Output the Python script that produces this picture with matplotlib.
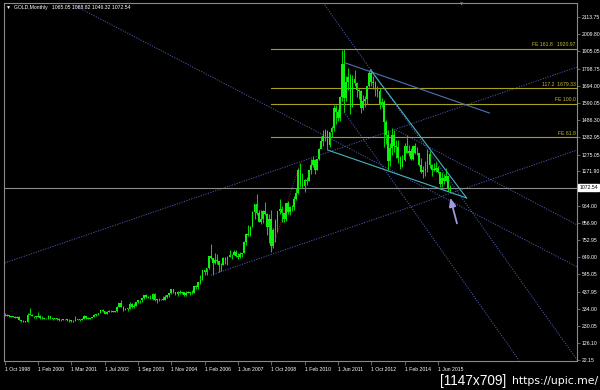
import matplotlib
matplotlib.use("Agg")
import matplotlib.pyplot as plt
import matplotlib.transforms as mtransforms

# monthly GOLD bars, Oct 1998 .. Dec 2015 (the feed has a few doubled months early on)
closes = [
    292, 294, 288,                                                        # 1998
    287, 287, 279, 286, 268, 261, 255, 254, 299, 299, 291, 288,           # 1999
    283, 293, 278, 276, 274, 272, 288, 276, 275, 277, 273, 264, 269, 270, 272,  # 2000
    265, 267, 258, 263, 266, 270, 266, 273, 293, 279, 274, 279,           # 2001
    282, 297, 302, 308, 326, 318, 304, 312, 323, 319, 317, 319, 347,      # 2002
    368, 348, 330, 334, 336, 364, 346, 354, 375, 388, 386, 398, 416,      # 2003
    408, 402, 396, 427, 388, 394, 393, 395, 391, 408, 416, 429, 453, 438, # 2004
    422, 435, 428, 435, 417, 430, 436, 429, 433, 473, 470, 495, 513,      # 2005
    569, 556, 582, 654, 643, 613, 633, 623, 599, 604, 646, 632,           # 2006
    650, 665, 662, 681, 657, 650, 666, 673, 743, 789, 783, 834,           # 2007
    923, 972, 916, 865, 885, 928, 912, 833, 884, 717, 815, 869,           # 2008
    928, 942, 916, 883, 979, 927, 955, 955, 1001, 1040, 1182, 1096,       # 2009
    1081, 1118, 1113, 1179, 1213, 1244, 1181, 1248, 1307, 1357, 1386, 1421,  # 2010
    1332, 1410, 1439, 1556, 1536, 1500, 1628, 1826, 1620, 1716, 1746, 1565,  # 2011
    1738, 1710, 1668, 1664, 1560, 1604, 1614, 1691, 1773, 1719, 1712, 1675,  # 2012
    1663, 1578, 1595, 1472, 1393, 1234, 1312, 1396, 1327, 1323, 1253, 1202,  # 2013
    1244, 1326, 1284, 1296, 1250, 1327, 1282, 1286, 1209, 1171, 1182, 1184,  # 2014
    1279, 1212, 1183, 1183, 1190, 1171, 1095, 1135, 1115, 1142, 1064, 1072.54,  # 2015
]
highs = [
    311, 300, 296,
    293, 292, 290, 292, 290, 268, 265, 258, 309, 338, 301, 292,
    292, 316, 296, 289, 281, 278, 295, 290, 280, 279, 278, 276, 270, 274, 273,
    272, 270, 267, 266, 293, 274, 272, 280, 295, 293, 283, 281,
    287, 304, 304, 310, 327, 332, 322, 318, 325, 325, 320, 323, 349,
    372, 389, 353, 340, 341, 373, 370, 368, 376, 391, 391, 400, 417,
    427, 412, 418, 430, 428, 397, 399, 396, 410, 416, 418, 431, 456, 457,
    438, 440, 447, 439, 435, 443, 440, 437, 448, 474, 478, 496, 538,
    571, 574, 585, 655, 730, 645, 675, 667, 626, 612, 650, 649,
    654, 691, 670, 693, 691, 672, 683, 675, 746, 796, 846, 841,
    928, 976, 1033, 934, 936, 934, 988, 919, 910, 935, 827, 883,
    932, 1006, 963, 919, 981, 990, 960, 966, 1025, 1070, 1195, 1226,
    1161, 1126, 1138, 1180, 1249, 1265, 1246, 1250, 1317, 1388, 1424, 1432,
    1424, 1413, 1448, 1575, 1577, 1553, 1632, 1913, 1921, 1755, 1803, 1764,
    1763, 1791, 1718, 1677, 1669, 1641, 1631, 1692, 1790, 1796, 1755, 1724,
    1696, 1683, 1617, 1605, 1487, 1424, 1347, 1434, 1424, 1361, 1361, 1267,
    1270, 1345, 1392, 1331, 1315, 1332, 1345, 1322, 1287, 1255, 1208, 1238,
    1307, 1294, 1220, 1224, 1232, 1205, 1171, 1170, 1157, 1191, 1142, 1088.82,
]
lows = [
    288, 290, 285,
    283, 282, 278, 278, 267, 256, 251, 252, 253, 297, 288, 280,
    280, 282, 274, 273, 272, 270, 271, 275, 269, 273, 268, 263, 262, 265, 268,
    262, 255, 255, 255, 263, 265, 263, 265, 270, 275, 272, 271,
    277, 282, 288, 298, 306, 314, 301, 302, 312, 315, 312, 313, 316,
    345, 345, 321, 325, 320, 335, 341, 340, 352, 369, 369, 374, 396,
    399, 400, 392, 391, 383, 371, 383, 390, 387, 386, 398, 408, 424, 431,
    416, 414, 424, 422, 414, 414, 428, 418, 426, 433, 458, 456, 488,
    513, 538, 540, 580, 640, 542, 607, 610, 560, 563, 604, 610,
    602, 649, 637, 661, 650, 640, 646, 650, 672, 722, 780, 781,
    834, 880, 905, 864, 850, 860, 908, 787, 736, 681, 705, 743,
    800, 912, 866, 866, 871, 913, 908, 933, 935, 1000, 1033, 1075,
    1073, 1045, 1088, 1112, 1155, 1200, 1157, 1179, 1244, 1315, 1330, 1360,
    1308, 1323, 1381, 1420, 1462, 1478, 1480, 1603, 1535, 1603, 1670, 1523,
    1563, 1696, 1628, 1613, 1527, 1548, 1564, 1581, 1688, 1692, 1672, 1635,
    1626, 1555, 1562, 1321, 1338, 1180, 1208, 1271, 1292, 1251, 1221, 1187,
    1200, 1238, 1283, 1268, 1240, 1240, 1280, 1272, 1206, 1160, 1131, 1142,
    1167, 1191, 1142, 1175, 1170, 1162, 1077, 1080, 1098, 1113, 1052, 1046.32,
]
opens = [299] + closes[:-2] + [1065.05]

date_ticks = [0, 16, 32, 48, 64, 80, 96, 112, 128, 144, 160, 176, 192, 208]
date_labels = ['1 Oct 1998', '1 Feb 2000', '1 Mar 2001', '1 Jul 2002', '1 Sep 2003',
               '1 Nov 2004', '1 Feb 2006', '1 Jun 2007', '1 Oct 2008', '1 Feb 2010',
               '1 Jun 2011', '1 Oct 2012', '1 Feb 2014', '1 Jun 2015']
price_ticks = [2113.75, 2009.80, 1905.05, 1798.75, 1694.00, 1590.05, 1486.30, 1382.95,
               1275.05, 1171.90, 964.00, 856.90, 752.95, 649.00, 545.05, 437.95,
               334.00, 230.05, 126.10, 22.15]
last_price = 1072.54

# fibo expansion (A = Oct 2008 low, B = Dec 2009 high)
fe_start = 128
fe_prices = [1379.1, 1586.1, 1679.33, 1920.97]
fe_labels = ['FE 61.8', 'FE 100.0', '117.2  1679.33', 'FE 161.8   1920.97']
fe_base = [(128, 681), (142, 1226)]

# hand drawn objects, (bar, price) anchors
dotted_lines = [
    [(0, 614), (275, 1809)],
    [(99, 540), (275, 1303)],
    [(33, 2187), (275, 589)],
    [(188, 1425), (275, 845)],
    [(153, 2199), (275, 20)],
    [(163, 1534), (247, 20)],
]
channel_line = [(163.7, 1833), (232.8, 1528)]
wedge_top = [(175.7, 1790), (221.8, 1010)]
wedge_bottom = [(155, 1303), (221.8, 1010)]
arrow_tail = (217.5, 839)
arrow_head = (213.6, 1028)

small = dict(fontsize=3.7, family=['Liberation Sans', 'DejaVu Sans'])

fig = plt.figure(figsize=(6, 3.9), dpi=100, facecolor='black')
ax = fig.add_axes([4/600, 29/390, 573/600, 358/390], facecolor='black')
ax.set_xlim(-0.3, 274.8)
ax.set_ylim(16.05, 2199.1)

# background objects first
for (x0, y0), (x1, y1) in dotted_lines:
    ax.plot([x0, x1], [y0, y1], color='#4a5aae', lw=0.7, ls=(0, (1.2, 1.4)), zorder=1)
ax.plot(*zip(*fe_base), color='#b01818', lw=0.6, ls=(0, (1.2, 1.4)), zorder=1)
ax.axhline(last_price, color='#8c8c8c', lw=0.8, zorder=1)
for p, lab in zip(fe_prices, fe_labels):
    ax.plot([fe_start, 275], [p, p], color='#aaa020', lw=0.8, zorder=1)
    ax.text(274.2, p + 8, lab, color='#c8bc30', ha='right', va='bottom', **small)

# candles
idx = list(range(len(closes)))
ax.vlines(idx, lows, highs, color='#00d400', lw=0.75, zorder=3)
bottoms = [min(o, c) for o, c in zip(opens, closes)]
heights = [max(abs(c - o), 3) for o, c in zip(opens, closes)]
ax.bar(idx, heights, bottom=bottoms, width=0.8, color='#10f010', linewidth=0, zorder=4)

# trend lines
ax.plot(*zip(*channel_line), color='#4e72b4', lw=0.8, zorder=5)
ax.plot(*zip(*wedge_top), color='#45b4c0', lw=0.8, zorder=5)
ax.plot(*zip(*wedge_bottom), color='#45b4c0', lw=0.8, zorder=5)
ax.annotate('', xy=arrow_head, xytext=arrow_tail,
            arrowprops=dict(arrowstyle='-|>,head_length=0.5,head_width=0.2',
                            color='#a098e4', lw=1.3), zorder=6)

# axes
for sp in ax.spines.values():
    sp.set_color('#8a8a8a')
    sp.set_linewidth(0.8)
ax.set_xticks(date_ticks)
ax.set_xticklabels(date_labels, **small)
for lbl in ax.get_xticklabels():
    lbl.set_ha('left')
ax.tick_params(axis='x', colors='#8a8a8a', labelcolor='white', length=3, width=0.5, pad=1.5)
ax.yaxis.tick_right()
ax.set_yticks(price_ticks)
ax.set_yticklabels(['%.2f' % v for v in price_ticks], **small)
ax.tick_params(axis='y', colors='#8a8a8a', labelcolor='white', length=2, width=0.5, pad=1.5)

trans = mtransforms.blended_transform_factory(ax.transAxes, ax.transData)
ax.text(1.004, last_price, '%.2f' % last_price, transform=trans, color='black',
        ha='left', va='center', bbox=dict(facecolor='white', edgecolor='white', pad=0.8),
        **small)

fig.text(6/600, 1 - 7/390, '\u25bc  GOLD,Monthly   1065.05 1088.82 1046.32 1072.54',
         color='white', va='center', **small)
fig.text(462/600, 1 - 4/390, '\u25bc', color='#8a8a8a', ha='center', va='center', fontsize=3)

fig.text(440/600, 9/390, '[1147x709]', color='white', va='center', fontsize=9.8,
         family='Liberation Sans')
fig.text(512/600, 9/390, 'https://upic.me/', color='white', va='center', fontsize=7.8,
         family='DejaVu Sans')

fig.savefig('out.png', dpi=100, facecolor='black')
